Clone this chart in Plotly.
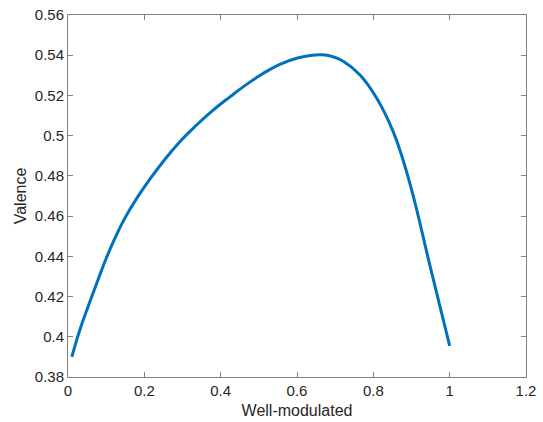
import plotly.graph_objects as go

well_modulated = [0.010, 0.031, 0.053, 0.080, 0.101, 0.123, 0.149, 0.180, 0.215, 0.250,
                  0.293, 0.337, 0.381, 0.425, 0.468, 0.512, 0.555, 0.599, 0.640, 0.665,
                  0.690, 0.721, 0.765, 0.809, 0.852, 0.880, 0.905, 0.949, 1.000]
valence = [0.3900, 0.4034, 0.4152, 0.4290, 0.4394, 0.4490, 0.4590, 0.4688, 0.4785, 0.4873,
           0.4970, 0.5053, 0.5128, 0.5194, 0.5255, 0.5310, 0.5355, 0.5385, 0.5400, 0.5402,
           0.5395, 0.5370, 0.5302, 0.5186, 0.5020, 0.4865, 0.4697, 0.4349, 0.3955]

x_ticks = [0, 0.2, 0.4, 0.6, 0.8, 1.0, 1.2]
x_tick_labels = ["0", "0.2", "0.4", "0.6", "0.8", "1", "1.2"]
y_ticks = [0.38, 0.40, 0.42, 0.44, 0.46, 0.48, 0.50, 0.52, 0.54, 0.56]
y_tick_labels = ["0.38", "0.4", "0.42", "0.44", "0.46", "0.48", "0.5", "0.52", "0.54", "0.56"]

FONT = "Liberation Sans, Arial, Helvetica, sans-serif"

fig = go.Figure()
fig.add_trace(go.Scatter(x=well_modulated, y=valence, mode="lines",
                         line=dict(color="#0072BD", width=3, shape="spline", smoothing=1.3),
                         showlegend=False, hoverinfo="skip"))

axis_common = dict(showgrid=False, zeroline=False, showline=True, linecolor="#808080",
                   linewidth=1, mirror="ticks", ticks="inside", ticklen=5, tickcolor="#808080",
                   automargin=False,
                   tickfont=dict(family=FONT, size=15, color="#262626"))

fig.update_xaxes(range=[0, 1.2], tickvals=x_ticks, ticktext=x_tick_labels,
                 title=dict(text="Well-modulated", standoff=6,
                            font=dict(family=FONT, size=16, color="#262626")),
                 **axis_common)
fig.update_yaxes(range=[0.38, 0.56], tickvals=y_ticks, ticktext=y_tick_labels,
                 title=dict(text="Valence", standoff=4,
                            font=dict(family=FONT, size=16, color="#262626")),
                 **axis_common)

fig.update_layout(width=543, height=422, margin=dict(l=68, r=17, t=15, b=45, autoexpand=False),
                  plot_bgcolor="white", paper_bgcolor="white")

fig.write_html("out.html", config={"displayModeBar": False},
               post_script="document.body.style.margin='0';document.body.style.overflow='hidden';")
